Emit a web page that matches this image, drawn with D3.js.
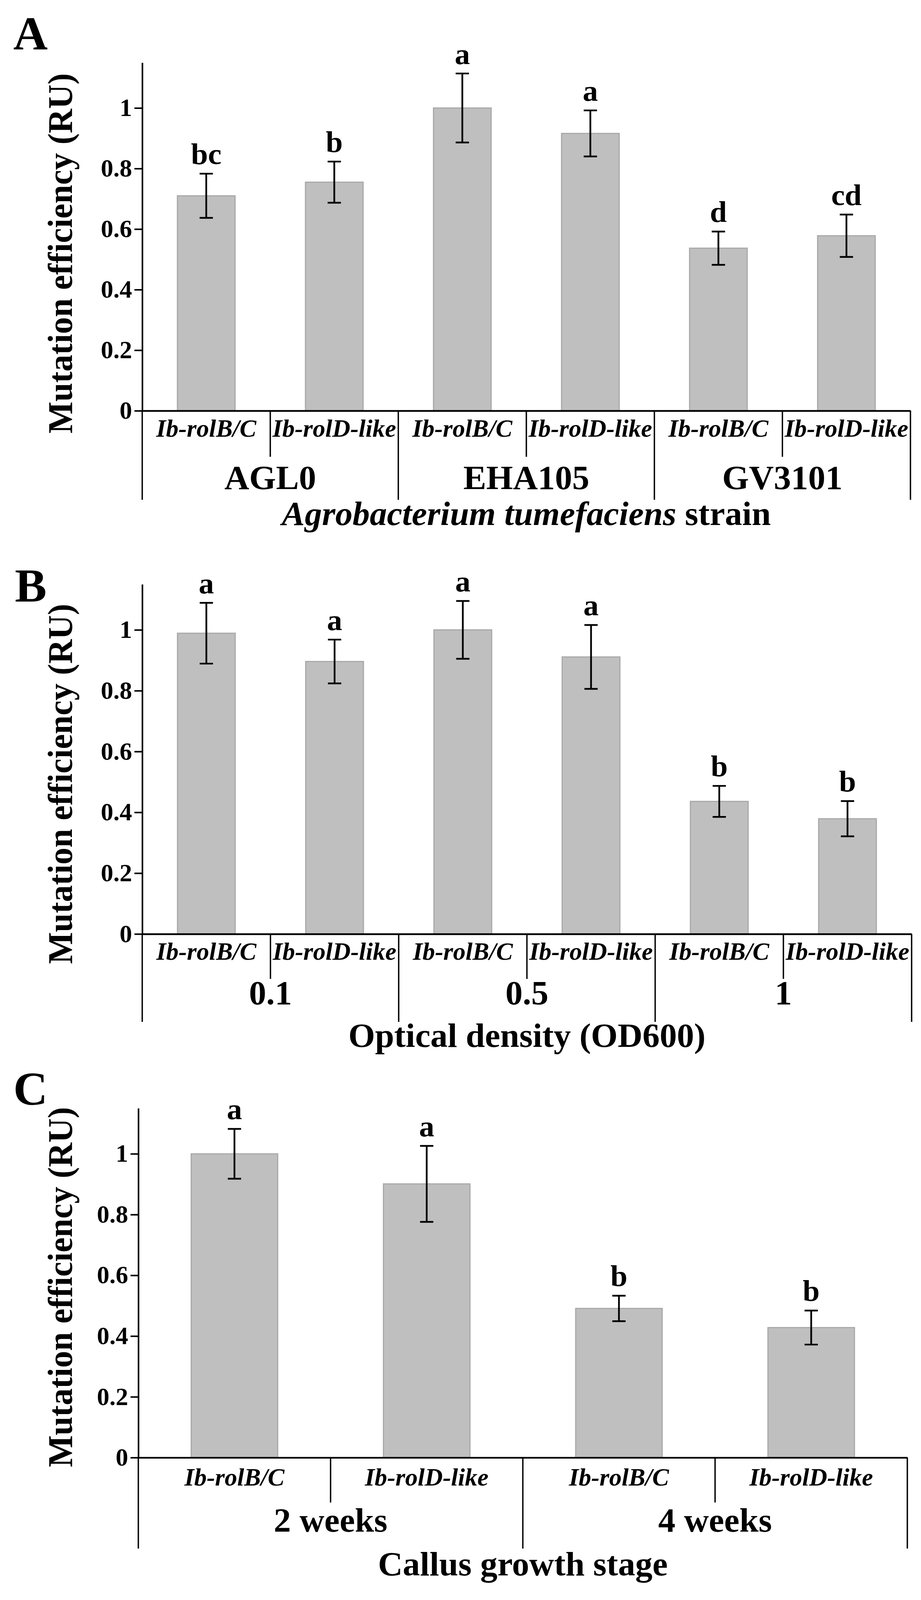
<!DOCTYPE html>
<html>
<head>
<meta charset="utf-8">
<script src="https://cdn.jsdelivr.net/npm/d3@7"></script>
<style>
  html, body { margin: 0; padding: 0; background: #fff; overflow: hidden; }
  #chart svg { display: block; width: 100vw; height: 100vh; }
  text { font-family: "Liberation Serif", "Times New Roman", serif; font-weight: bold; fill: #000; }
</style>
</head>
<body>
<div id="chart"></div>
<script>
var svgWidth = 2357;
var svgHeight = 4168;

// Data
// ==============================
var subLabels = ["Ib-rolB/C", "Ib-rolD-like"];
var yTicks = [0, 0.2, 0.4, 0.6, 0.8, 1];
var yTickLabels = ["0", "0.2", "0.4", "0.6", "0.8", "1"];
var yMax = 1.15;

var strainGroups = ["AGL0", "EHA105", "GV3101"];
var strainValues = [0.71, 0.755, 1.0, 0.916, 0.537, 0.578];
var strainErrors = [0.073, 0.068, 0.114, 0.076, 0.055, 0.07];
var strainLetters = ["bc", "b", "a", "a", "d", "cd"];

var odGroups = ["0.1", "0.5", "1"];
var odValues = [0.989, 0.896, 1.0, 0.911, 0.436, 0.379];
var odErrors = [0.1, 0.072, 0.095, 0.105, 0.051, 0.058];
var odLetters = ["a", "a", "a", "a", "b", "b"];

var stageGroups = ["2 weeks", "4 weeks"];
var stageValues = [1.0, 0.901, 0.491, 0.428];
var stageErrors = [0.082, 0.125, 0.042, 0.056];
var stageLetters = ["a", "a", "b", "b"];

// the drawing is laid out in 2357x4168 units and stretched onto the visible window
var svg = d3.select("#chart")
  .append("svg")
  .attr("viewBox", `0 0 ${svgWidth} ${svgHeight}`)
  .attr("preserveAspectRatio", "none");

// one panel = bars + error bars + letters + two level x labels
function drawPanel(p) {
  var n = p.values.length;
  var perGroup = subLabels.length;
  var g = svg.append("g");

  var x = d3.scaleBand()
    .domain(d3.range(n))
    .range([p.left, p.right])
    .paddingInner(0.55)
    .paddingOuter(0.275);

  var y = d3.scaleLinear()
    .domain([0, yMax])
    .range([p.zero, p.top]);

  var step = x.step();
  var xEdge = i => p.left + i * step;
  var cx = i => x(i) + x.bandwidth() / 2;

  // bars
  g.selectAll("rect.bar")
    .data(p.values)
    .enter()
    .append("rect")
    .attr("class", "bar")
    .attr("x", (d, i) => x(i))
    .attr("y", d => y(d))
    .attr("width", x.bandwidth())
    .attr("height", d => y(0) - y(d))
    .attr("fill", "#bfbfbf")
    .attr("stroke", "#a9a9a9")
    .attr("stroke-width", 3);

  // error bars
  var err = g.selectAll("g.err")
    .data(p.values)
    .enter()
    .append("g")
    .attr("class", "err")
    .attr("stroke", "#000")
    .attr("stroke-width", 4.5);
  err.append("line")
    .attr("x1", (d, i) => cx(i)).attr("x2", (d, i) => cx(i))
    .attr("y1", (d, i) => y(d + p.errors[i])).attr("y2", (d, i) => y(d - p.errors[i]));
  err.append("line")
    .attr("x1", (d, i) => cx(i) - 17).attr("x2", (d, i) => cx(i) + 17)
    .attr("y1", (d, i) => y(d + p.errors[i])).attr("y2", (d, i) => y(d + p.errors[i]));
  err.append("line")
    .attr("x1", (d, i) => cx(i) - 17).attr("x2", (d, i) => cx(i) + 17)
    .attr("y1", (d, i) => y(d - p.errors[i])).attr("y2", (d, i) => y(d - p.errors[i]));

  // significance letters
  g.selectAll("text.sig")
    .data(p.letters)
    .enter()
    .append("text")
    .attr("class", "sig")
    .attr("x", (d, i) => cx(i))
    .attr("y", (d, i) => y(p.values[i] + p.errors[i]) - 25)
    .attr("text-anchor", "middle")
    .attr("font-size", "78px")
    .text(d => d);

  // y axis
  var leftAxis = d3.axisLeft(y)
    .tickValues(yTicks)
    .tickSize(20)
    .tickSizeOuter(0)
    .tickPadding(6)
    .tickFormat((d, i) => yTickLabels[i]);
  var ya = g.append("g")
    .attr("transform", `translate(${p.left}, 0)`)
    .call(leftAxis);
  ya.select(".domain").attr("stroke-width", 4).attr("stroke", "#000");
  ya.selectAll(".tick line").attr("stroke-width", 4).attr("stroke", "#000");
  ya.selectAll(".tick text")
    .attr("font-size", "64px")
    .attr("font-family", "Liberation Serif, Times New Roman, serif")
    .attr("font-weight", "bold")
    .attr("fill", "#000");

  // x axis base line
  var bottomAxis = d3.axisBottom(x).tickSize(0).tickFormat("");
  var xa = g.append("g")
    .attr("transform", `translate(0, ${p.zero})`)
    .call(bottomAxis);
  xa.select(".domain").attr("stroke-width", 4.5).attr("stroke", "#000");

  // separators: short inside groups, long between groups
  g.selectAll("line.sep")
    .data(d3.range(n + 1))
    .enter()
    .append("line")
    .attr("class", "sep")
    .attr("x1", i => xEdge(i)).attr("x2", i => xEdge(i))
    .attr("y1", p.zero)
    .attr("y2", i => i % perGroup === 0 ? p.groupLine : p.subSep)
    .attr("stroke", "#000")
    .attr("stroke-width", 3.5);

  // sub category labels
  g.selectAll("text.sub")
    .data(d3.range(n))
    .enter()
    .append("text")
    .attr("class", "sub")
    .attr("x", i => cx(i))
    .attr("y", p.subY)
    .attr("text-anchor", "middle")
    .attr("font-size", "64px")
    .attr("font-style", "italic")
    .text(i => subLabels[i % perGroup]);

  // group labels
  g.selectAll("text.grp")
    .data(p.groups)
    .enter()
    .append("text")
    .attr("class", "grp")
    .attr("x", (d, i) => xEdge(i * perGroup) + step * perGroup / 2)
    .attr("y", p.groupY)
    .attr("text-anchor", "middle")
    .attr("font-size", "88px")
    .text(d => d);

  // x title
  var xt = g.append("text")
    .attr("x", (p.left + p.right) / 2)
    .attr("y", p.titleY)
    .attr("text-anchor", "middle")
    .attr("font-size", "88px");
  p.title.forEach(function(part) {
    xt.append("tspan")
      .attr("font-style", part.italic ? "italic" : "normal")
      .text(part.text);
  });

  // y title
  g.append("text")
    .attr("transform", `translate(${p.yTitleX}, ${p.yTitleY}) rotate(-90)`)
    .attr("text-anchor", "middle")
    .attr("font-size", "88px")
    .text("Mutation efficiency (RU)");

  // panel letter
  g.append("text")
    .attr("x", p.letterX)
    .attr("y", p.letterY)
    .attr("font-size", "122px")
    .text(p.letter);
}

drawPanel({
  letter: "A", values: strainValues, errors: strainErrors, letters: strainLetters, groups: strainGroups,
  title: [{text: "Agrobacterium tumefaciens", italic: true}, {text: " strain", italic: false}],
  top: 163, zero: 1070, left: 364, right: 2330,
  letterX: 34, letterY: 128, yTitleX: 184, yTitleY: 660,
  subY: 1138, subSep: 1190, groupY: 1274, groupLine: 1302, titleY: 1368
});

drawPanel({
  letter: "B", values: odValues, errors: odErrors, letters: odLetters, groups: odGroups,
  title: [{text: "Optical density (OD600)", italic: false}],
  top: 1522, zero: 2433, left: 364, right: 2333,
  letterX: 38, letterY: 1567, yTitleX: 184, yTitleY: 2042,
  subY: 2500, subSep: 2550, groupY: 2616, groupLine: 2662, titleY: 2727
});

drawPanel({
  letter: "C", values: stageValues, errors: stageErrors, letters: stageLetters, groups: stageGroups,
  title: [{text: "Callus growth stage", italic: false}],
  top: 2887, zero: 3797, left: 354, right: 2322,
  letterX: 34, letterY: 2878, yTitleX: 184, yTitleY: 3353,
  subY: 3870, subSep: 3914, groupY: 3990, groupLine: 4034, titleY: 4104
});
</script>
</body>
</html>
